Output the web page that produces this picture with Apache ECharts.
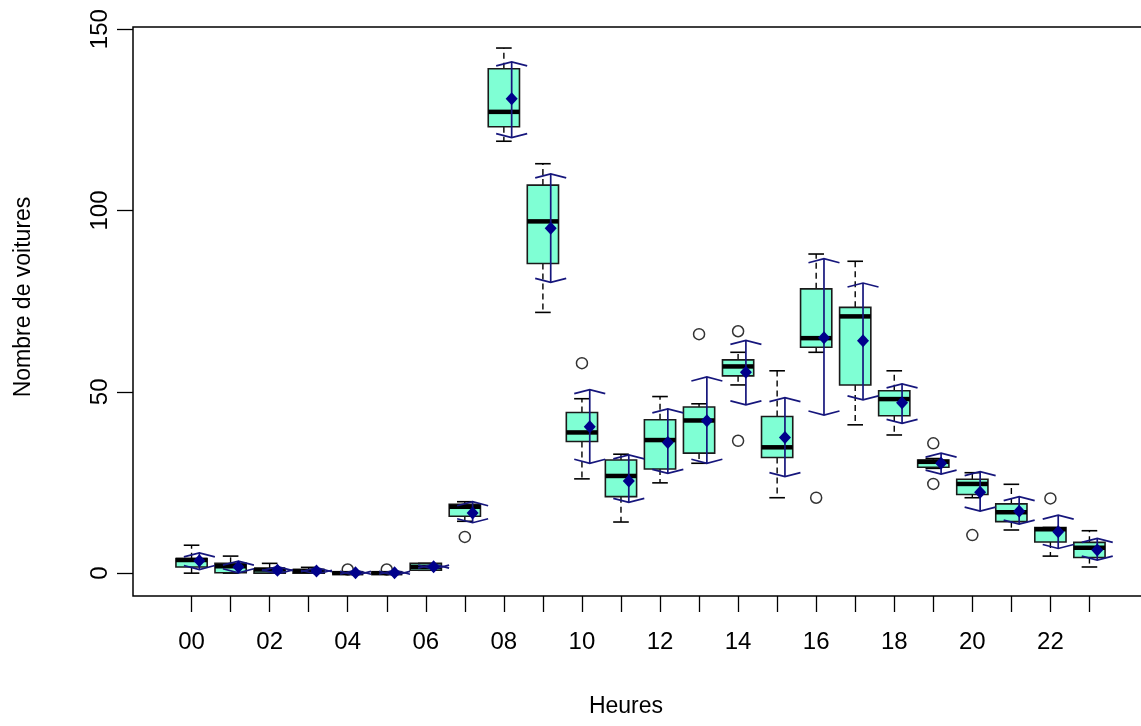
<!DOCTYPE html>
<html>
<head>
<meta charset="utf-8">
<script src="https://cdn.jsdelivr.net/npm/echarts@6/dist/echarts.min.js"></script>
<style>
  html, body { margin: 0; padding: 0; background: #ffffff; }
  #chart { width: 1141px; height: 726px; }
</style>
</head>
<body>
<div id="chart"></div>
<script>
// Hourly car counts: box statistics, outliers, means and confidence bounds per hour
const hours = ['00','01','02','03','04','05','06','07','08','09','10','11',
               '12','13','14','15','16','17','18','19','20','21','22','23'];
const hourLabels = ['00','02','04','06','08','10','12','14','16','18','20','22'];
const yTicks = [0, 50, 100, 150];

const whiskerLow  = [0,   0,   0,   0,   0, 0, 0.8, 14.3, 119.1, 71.9, 26.0, 14.1, 24.9, 30.3, 51.9, 20.8, 60.9, 40.9, 38.1, 28.9, 20.8, 11.9, 4.7, 1.7];
const q1          = [1.7, 0.1, 0,   0,   0, 0, 0.8, 15.7, 123.1, 85.4, 36.3, 21.1, 28.7, 33.1, 54.4, 31.9, 62.3, 51.9, 43.4, 29.2, 21.7, 14.2, 8.6, 4.3];
const median      = [3.6, 1.9, 1.0, 0.6, 0, 0, 1.7, 18.3, 127.2, 97.0, 38.8, 26.8, 36.7, 42.1, 57.0, 34.7, 64.8, 70.8, 48.0, 30.7, 24.6, 16.8, 12.1, 7.0];
const q3          = [4.0, 2.7, 1.2, 1.0, 0, 0, 2.7, 19.0, 139.1, 107.0, 44.3, 31.2, 42.3, 45.8, 58.8, 43.2, 78.4, 73.3, 50.3, 31.2, 25.9, 19.1, 12.6, 8.5];
const whiskerHigh = [7.7, 4.7, 2.7, 1.6, 0, 0, 2.7, 19.7, 144.8, 112.9, 48.1, 32.8, 48.7, 46.7, 60.9, 55.8, 88.0, 86.0, 55.8, 31.6, 27.7, 24.5, 12.6, 11.7];

const outlierHour  = [4,   5,   7,    10,   13,   14,   14,   16,   19,   19,   20,   22];
const outlierValue = [1.0, 1.0, 10.0, 57.9, 65.9, 66.7, 36.5, 20.8, 35.8, 24.6, 10.5, 20.6];

const means  = [3.4, 1.7, 0.8, 0.6, 0.1, 0.1, 1.8, 16.6, 130.8, 95.1, 40.4, 25.4, 36.0, 42.0, 55.4, 37.4, 64.9, 64.1, 47.0, 30.3, 22.3, 17.1, 11.4, 6.4];
const ciLow  = [1.0, 0.1, -0.2, -0.3, -0.6, -0.6, 1.1, 13.9, 120.1, 80.2, 30.3, 19.5, 27.5, 30.3, 46.4, 26.6, 43.6, 47.8, 41.3, 27.3, 17.1, 13.5, 6.8, 3.6];
const ciHigh = [5.6, 3.3, 1.8, 1.5, 0.8, 0.8, 2.5, 19.7, 141.0, 110.1, 50.6, 32.6, 45.3, 54.1, 64.2, 48.4, 86.7, 80.0, 52.2, 33.1, 28.0, 21.1, 16.0, 9.6];

const xTitle = 'Heures';
const yTitle = 'Nombre de voitures';

const FONT = "'Liberation Sans', Arial, sans-serif";
const FONT_SIZE = 24;
const BOX_FILL = '#7FFFD4';
const CI_COLOR = '#16167c';
const MEAN_COLOR = '#00008B';
const BOX_WIDTH = 0.8;     // in hour units
const CI_SHIFT = 0.2;      // mean/CI drawn slightly right of the box centre

const boxData = hours.map((h, i) => [i, whiskerLow[i], q1[i], median[i], q3[i], whiskerHigh[i]]);
const outlierData = outlierHour.map((h, k) => [h, outlierValue[k]]);
const ciData = hours.map((h, i) => [i, ciLow[i], ciHigh[i], means[i]]);

function renderBox(params, api) {
  const x = api.value(0);
  const pLo = api.coord([x, api.value(1)]);
  const pQ1 = api.coord([x, api.value(2)]);
  const pMed = api.coord([x, api.value(3)]);
  const pQ3 = api.coord([x, api.value(4)]);
  const pHi = api.coord([x, api.value(5)]);
  const cx = pMed[0];
  const half = api.size([BOX_WIDTH, 0])[0] / 2;
  const staple = half / 2;
  const black = '#000';
  return {
    type: 'group',
    children: [
      { type: 'line', shape: { x1: cx, y1: pQ3[1], x2: cx, y2: pHi[1] },
        style: { stroke: black, lineWidth: 1.4, lineDash: [6, 4] } },
      { type: 'line', shape: { x1: cx, y1: pQ1[1], x2: cx, y2: pLo[1] },
        style: { stroke: black, lineWidth: 1.4, lineDash: [6, 4] } },
      { type: 'line', shape: { x1: cx - staple, y1: pHi[1], x2: cx + staple, y2: pHi[1] },
        style: { stroke: black, lineWidth: 1.6 } },
      { type: 'line', shape: { x1: cx - staple, y1: pLo[1], x2: cx + staple, y2: pLo[1] },
        style: { stroke: black, lineWidth: 1.6 } },
      { type: 'rect', shape: { x: cx - half, y: pQ3[1], width: 2 * half, height: pQ1[1] - pQ3[1] },
        style: { fill: BOX_FILL, stroke: '#1a1a1a', lineWidth: 1.6 } },
      { type: 'line', shape: { x1: cx - half, y1: pMed[1], x2: cx + half, y2: pMed[1] },
        style: { stroke: black, lineWidth: 4.5 } }
    ]
  };
}

function renderCI(params, api) {
  const x = api.value(0) + CI_SHIFT;
  const pLow = api.coord([x, api.value(1)]);
  const pHigh = api.coord([x, api.value(2)]);
  const pMean = api.coord([x, api.value(3)]);
  const cx = pLow[0];
  const arm = 15.5, drop = 4;   // arrow heads opened wide, like flat chevrons
  const st = { stroke: CI_COLOR, lineWidth: 1.7, fill: null };
  return {
    type: 'group',
    children: [
      { type: 'line', shape: { x1: cx, y1: pLow[1], x2: cx, y2: pHigh[1] }, style: st },
      { type: 'polyline', shape: { points: [[cx - arm, pHigh[1] + drop], [cx, pHigh[1]], [cx + arm, pHigh[1] + drop]] }, style: st },
      { type: 'polyline', shape: { points: [[cx - arm, pLow[1] - drop], [cx, pLow[1]], [cx + arm, pLow[1] - drop]] }, style: st },
      { type: 'polygon', shape: { points: [[cx, pMean[1] - 6.5], [cx + 6, pMean[1]], [cx, pMean[1] + 6.5], [cx - 6, pMean[1]]] },
        style: { fill: MEAN_COLOR } }
    ]
  };
}

const chart = echarts.init(document.getElementById('chart'), null, { renderer: 'canvas' });

chart.setOption({
  animation: false,
  backgroundColor: '#ffffff',
  textStyle: { fontFamily: FONT },
  grid: {
    left: 133, top: 27, right: -7, bottom: 130,
    show: true, borderColor: '#000', borderWidth: 1.5,
    containLabel: false, outerBoundsMode: 'none'
  },
  graphic: [
    { type: 'text', x: 626, y: 707,
      style: { text: xTitle, font: `${FONT_SIZE - 1}px ${FONT}`, fill: '#000', textAlign: 'center', textVerticalAlign: 'middle' } },
    { type: 'text', x: 24, y: 297, rotation: Math.PI / 2,
      style: { text: yTitle, font: `${FONT_SIZE - 1}px ${FONT}`, fill: '#000', textAlign: 'center', textVerticalAlign: 'middle' } }
  ],
  xAxis: {
    type: 'value',
    min: -1.5, max: 24.5,
    axisLine: { show: false, onZero: false },
    splitLine: { show: false },
    axisTick: { show: true, length: 16, lineStyle: { color: '#000', width: 1.3 },
                customValues: hours.map((h, i) => i) },
    axisLabel: { show: true, margin: 34, fontSize: FONT_SIZE, color: '#000', fontFamily: FONT,
                 customValues: hourLabels.map(s => Number(s)),
                 formatter: v => hours[v] }
  },
  yAxis: {
    type: 'value',
    min: -6.3, max: 150.6,
    axisLine: { show: false, onZero: false },
    splitLine: { show: false },
    axisTick: { show: true, length: 16, lineStyle: { color: '#000', width: 1.3 },
                customValues: yTicks },
    axisLabel: { show: true, rotate: 90, margin: 21, fontSize: FONT_SIZE, color: '#000', fontFamily: FONT,
                 customValues: yTicks }
  },
  series: [
    {
      type: 'custom',
      name: 'boxes',
      renderItem: renderBox,
      data: boxData,
      encode: { x: 0, y: [1, 2, 3, 4, 5] },
      z: 2
    },
    {
      type: 'scatter',
      name: 'outliers',
      data: outlierData,
      symbol: 'circle',
      symbolSize: 11,
      itemStyle: { color: 'rgba(0,0,0,0)', borderColor: '#000', borderWidth: 1.5 },
      z: 3
    },
    {
      type: 'custom',
      name: 'means',
      renderItem: renderCI,
      data: ciData,
      encode: { x: 0, y: [1, 2, 3] },
      z: 4
    }
  ]
});
</script>
</body>
</html>
